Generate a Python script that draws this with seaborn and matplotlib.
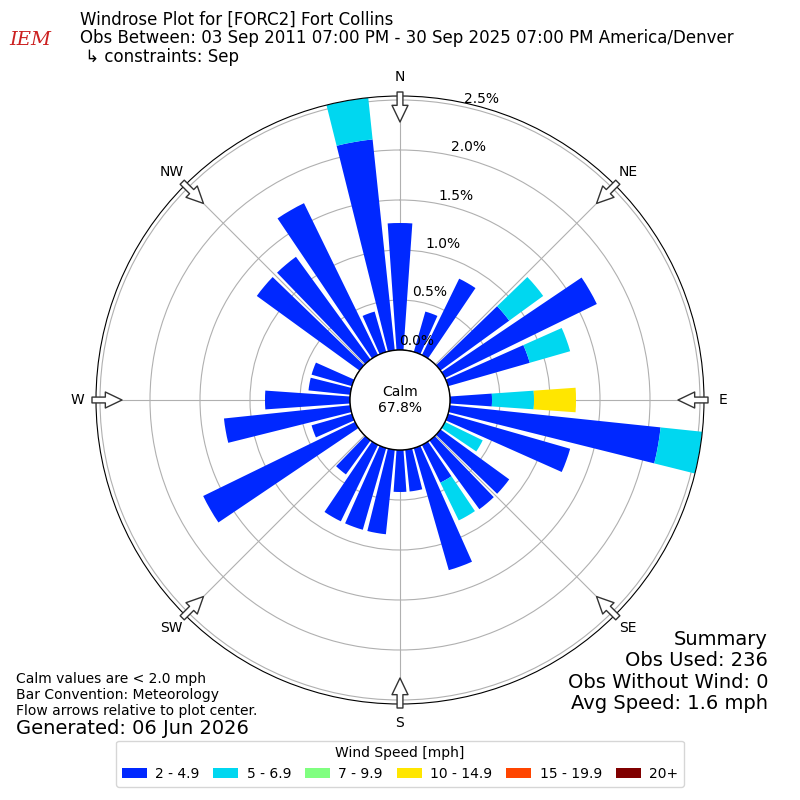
import matplotlib
matplotlib.use("Agg")
import matplotlib.pyplot as plt
from matplotlib.patches import Circle, Patch
from matplotlib.transforms import offset_copy
import numpy as np
import seaborn as sns

# directions (deg, meteorological) and frequency (%) per speed bin
directions = np.arange(0, 360, 10)
bin_labels = ["2 - 4.9", "5 - 6.9", "7 - 9.9", "10 - 14.9", "15 - 19.9", "20+"]
bin_colors = ["#0028ff", "#00d7f0", "#80ff80", "#ffe600", "#ff4500", "#800000"]

spd_2_5 = [1.27, 0, 0.42, 0.85, 0, 0.85, 1.69, 0.85, 0, 0.42,
           2.12, 1.27, 0, 0.85, 0.85, 0.42, 1.27, 0.42, 0.42, 0.85,
           0.85, 0.85, 0.42, 0, 1.69, 0.42, 1.27, 0.85, 0.42, 0.42,
           0, 1.27, 1.27, 1.69, 0.42, 2.12]
spd_5_7 = [0, 0, 0, 0, 0, 0.42, 0, 0.42, 0, 0.42,
           0.42, 0, 0.42, 0, 0, 0.42, 0, 0, 0, 0,
           0, 0, 0, 0, 0, 0, 0, 0, 0, 0,
           0, 0, 0, 0, 0, 0.42]
spd_7_10 = [0] * 36
spd_10_15 = [0, 0, 0, 0, 0, 0, 0, 0, 0, 0.42,
             0, 0, 0, 0, 0, 0, 0, 0, 0, 0,
             0, 0, 0, 0, 0, 0, 0, 0, 0, 0,
             0, 0, 0, 0, 0, 0]
spd_15_20 = [0] * 36
spd_20p = [0] * 36

calm_pct = 67.8
r_ticks = [0.0, 0.5, 1.0, 1.5, 2.0, 2.5]
r_max = 2.54
dir_labels = ["N", "NE", "E", "SE", "S", "SW", "W", "NW"]

sns.set_style("white")
plt.rcParams["font.family"] = ["DejaVu Sans"]
plt.rcParams["text.color"] = "black"
plt.rcParams["xtick.color"] = "black"
plt.rcParams["ytick.color"] = "black"
plt.rcParams["legend.labelcolor"] = "black"

fig = plt.figure(figsize=(8, 8), dpi=100)
ax = fig.add_axes([0.12, 0.12, 0.76, 0.76], projection="polar")
ax.set_theta_zero_location("N")
ax.set_theta_direction(-1)

theta = np.deg2rad(directions)
width = np.deg2rad(8)
bottom = np.zeros(36)
series = [spd_2_5, spd_5_7, spd_7_10, spd_10_15, spd_15_20, spd_20p]
palette = sns.color_palette(bin_colors)
for vals, col in zip(series, palette):
    vals = np.array(vals, dtype=float)
    ax.bar(theta, vals, width=width, bottom=bottom, color=col, linewidth=0, zorder=2)
    bottom += vals

ax.set_rorigin(-0.5)
ax.set_ylim(0, r_max)
ax.set_yticks(r_ticks)
ax.set_yticklabels([])
lab_tr = offset_copy(ax.transData, fig=fig, x=3, y=3, units="points")
for t in r_ticks:
    ax.text(np.deg2rad(15), t, f"{t:.1f}%", transform=lab_tr, ha="center",
            va="bottom", fontsize=10, zorder=8)
ax.set_xticks(np.deg2rad(np.arange(0, 360, 45)))
ax.set_xticklabels(dir_labels, fontsize=10, color="black")
ax.tick_params(axis="x", pad=3)
ax.grid(True, color="#b0b0b0", lw=0.8)
ax.set_axisbelow(True)
ax.spines["polar"].set_color("black")

# flow arrows at the rim
for d in np.arange(0, 360, 45):
    t = np.deg2rad(d)
    ax.annotate("", xy=(t, 2.28), xytext=(t, 2.58),
                arrowprops=dict(arrowstyle="simple,head_length=1.2,head_width=1.15,tail_width=0.42",
                                fc="white", ec="#333333", lw=1, shrinkA=0, shrinkB=0,
                                mutation_scale=10),
                annotation_clip=False, zorder=5)

# calm circle
ax.add_patch(Circle((0.5, 0.5), 50 / 608, transform=ax.transAxes, fc="white",
                    ec="black", lw=1, zorder=6, clip_on=False))
ax.text(0.5, 0.5, f"Calm\n{calm_pct:.1f}%", transform=ax.transAxes, ha="center",
        va="center", fontsize=10, zorder=7)

# header
fig.text(0.1, 0.986, "Windrose Plot for [FORC2] Fort Collins\n"
         "Obs Between: 03 Sep 2011 07:00 PM - 30 Sep 2025 07:00 PM America/Denver\n"
         " \u21b3 constraints: Sep", ha="left", va="top", fontsize=12, linespacing=1.02)
fig.text(0.038, 0.95, "IEM", ha="center", va="center", fontsize=14, color="#cc2020",
         family="DejaVu Serif", style="italic")

fig.text(0.96, 0.109, "Summary\nObs Used: 236\nObs Without Wind: 0\nAvg Speed: 1.6 mph",
         ha="right", va="bottom", fontsize=14, linespacing=1.15)
fig.text(0.02, 0.103, "Calm values are < 2.0 mph\nBar Convention: Meteorology\n"
         "Flow arrows relative to plot center.", ha="left", va="bottom", fontsize=10,
         linespacing=1.15)
fig.text(0.02, 0.077, "Generated: 06 Jun 2026", ha="left", va="bottom", fontsize=14)

handles = [Patch(facecolor=c, edgecolor="none") for c in palette]
leg = fig.legend(handles, bin_labels, loc="lower center", bbox_to_anchor=(0.5, 0.008), ncol=6,
                 title="Wind Speed [mph]", fontsize=10, title_fontsize=10, frameon=True,
                 handlelength=1.8, handletextpad=0.6, columnspacing=1.0)
leg.get_title().set_color("black")

fig.savefig("out.png", dpi=100)
